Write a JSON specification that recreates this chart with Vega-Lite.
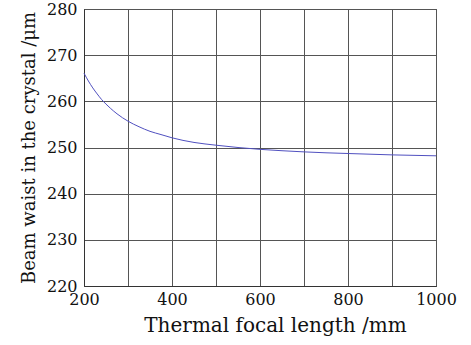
{
  "$schema": "https://vega.github.io/schema/vega-lite/v6.json",
  "autosize": "none",
  "width": 352,
  "height": 277,
  "padding": {"left": 84, "top": 9, "right": 35, "bottom": 59},
  "background": "white",
  "config": {
    "view": {"stroke": "#333333", "strokeWidth": 1},
    "font": "DejaVu Serif",
    "axis": {
      "labelFont": "DejaVu Serif",
      "titleFont": "DejaVu Serif",
      "labelFontSize": 16,
      "titleFontSize": 20,
      "titleFontWeight": "normal",
      "labelColor": "#111111",
      "titleColor": "#111111",
      "gridColor": "#555555",
      "gridOpacity": 1,
      "gridWidth": 1,
      "domainColor": "#333333",
      "tickColor": "#333333",
      "tickSize": 0
    }
  },
  "data": {
    "values": [
      {"f": 200, "w": 266.1},
      {"f": 210, "w": 264.4},
      {"f": 220, "w": 262.9},
      {"f": 230, "w": 261.6},
      {"f": 240, "w": 260.4},
      {"f": 250, "w": 259.4},
      {"f": 260, "w": 258.5},
      {"f": 275, "w": 257.3},
      {"f": 300, "w": 255.7},
      {"f": 325, "w": 254.5},
      {"f": 350, "w": 253.5},
      {"f": 375, "w": 252.8},
      {"f": 400, "w": 252.1},
      {"f": 450, "w": 251.1},
      {"f": 500, "w": 250.5},
      {"f": 550, "w": 250.0},
      {"f": 600, "w": 249.6},
      {"f": 650, "w": 249.3},
      {"f": 700, "w": 249.05},
      {"f": 750, "w": 248.85},
      {"f": 800, "w": 248.7},
      {"f": 850, "w": 248.55},
      {"f": 900, "w": 248.4},
      {"f": 950, "w": 248.3},
      {"f": 1000, "w": 248.2}
    ]
  },
  "mark": {"type": "line", "color": "#5050c0", "strokeWidth": 1, "interpolate": "monotone"},
  "encoding": {
    "x": {
      "field": "f",
      "type": "quantitative",
      "scale": {"domain": [200, 1000], "nice": false, "zero": false},
      "axis": {
        "title": "Thermal focal length /mm",
        "format": "d",
        "values": [200, 300, 400, 500, 600, 700, 800, 900, 1000],
        "labelExpr": "datum.value % 200 == 0 ? datum.label : ''",
        "labelPadding": 5,
        "titlePadding": 8,
        "titleX": 191,
        "titleAlign": "center",
        "grid": true,
        "labelFlush": false,
        "labelOverlap": false
      }
    },
    "y": {
      "field": "w",
      "type": "quantitative",
      "scale": {"domain": [220, 280], "nice": false, "zero": false},
      "axis": {
        "title": "Beam waist in the crystal /μm",
        "titleFontSize": 18,
        "format": "d",
        "values": [220, 230, 240, 250, 260, 270, 280],
        "labelPadding": 7,
        "titlePadding": 8,
        "grid": true,
        "labelFlush": false,
        "labelOverlap": false
      }
    }
  }
}
